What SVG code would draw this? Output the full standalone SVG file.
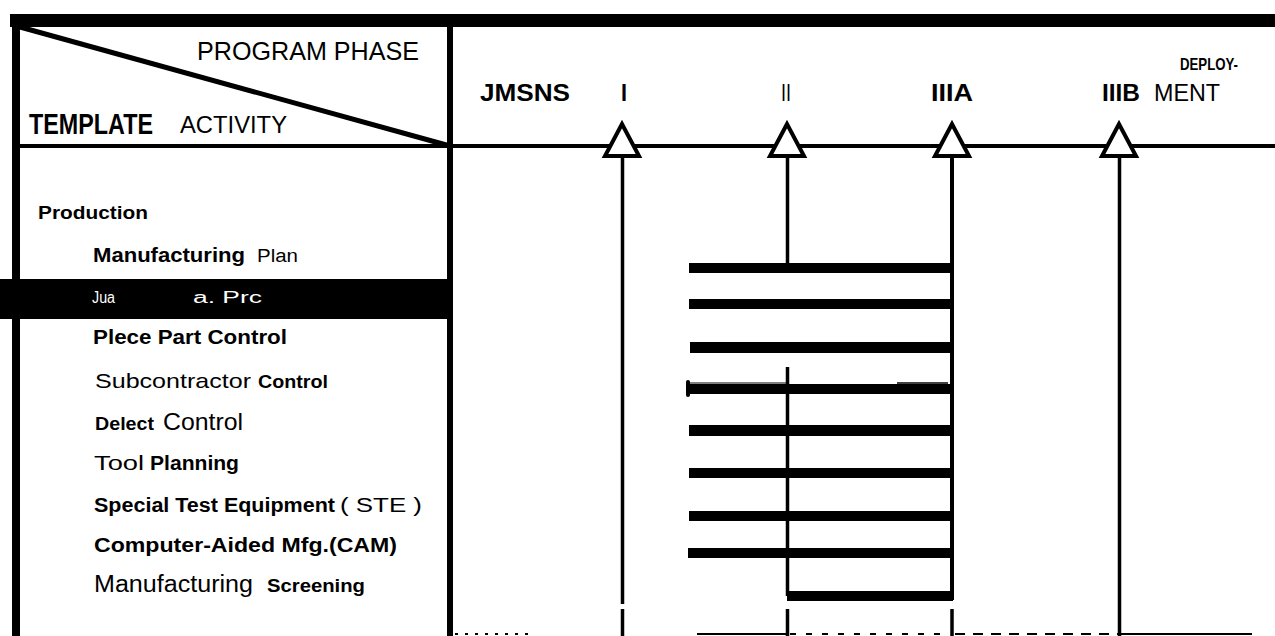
<svg xmlns="http://www.w3.org/2000/svg" width="1275" height="636" viewBox="0 0 1275 636">
<style>
.r{font-family:"Liberation Sans",Arial,sans-serif;fill:#000}
.b{font-family:"Liberation Sans",Arial,sans-serif;font-weight:bold;fill:#000}
.w{fill:#fff}
.bar{fill:#000}
.ln{stroke:#000;fill:none}
.tri{fill:#fff;stroke:#000;stroke-width:4;stroke-linejoin:miter}
</style>
<rect width="1275" height="636" fill="#fff"/>
<g id="frame">
<rect x="10" y="14" width="1265" height="13" fill="#000"/>
<rect x="12" y="14" width="8" height="622" fill="#000"/>
<rect x="447" y="14" width="6" height="622" fill="#000"/>
<line class="ln" x1="12" y1="146" x2="1275" y2="146" stroke-width="4"/>
<line class="ln" x1="20" y1="27" x2="450" y2="146" stroke-width="5"/>
</g>
<g id="header-left">
<text class="r" x="197" y="60" font-size="25" textLength="222" lengthAdjust="spacingAndGlyphs">PROGRAM PHASE</text>
<text class="b" x="29" y="134" font-size="30" textLength="124" lengthAdjust="spacingAndGlyphs">TEMPLATE</text>
<text class="r" x="180" y="133" font-size="23" textLength="107" lengthAdjust="spacingAndGlyphs">ACTIVITY</text>
</g>
<g id="header-phases">
<text class="b" x="480" y="101" font-size="24" textLength="90" lengthAdjust="spacingAndGlyphs">JMSNS</text>
<text class="b" x="621" y="101" font-size="24" textLength="6" lengthAdjust="spacingAndGlyphs">I</text>
<text class="r" x="781" y="101" font-size="24" textLength="10" lengthAdjust="spacingAndGlyphs">II</text>
<text class="b" x="931" y="101" font-size="24" textLength="42" lengthAdjust="spacingAndGlyphs">IIIA</text>
<text class="b" x="1102" y="101" font-size="24" textLength="38" lengthAdjust="spacingAndGlyphs">IIIB</text>
<text class="r" x="1154" y="101" font-size="24" textLength="66" lengthAdjust="spacingAndGlyphs">MENT</text>
<text class="b" x="1180" y="70" font-size="17" textLength="58" lengthAdjust="spacingAndGlyphs">DEPLOY-</text>
</g>
<g id="milestones">
<polygon class="tri" points="622,124 605,156 639,156"/>
<polygon class="tri" points="787,124 770,156 804,156"/>
<polygon class="tri" points="952,124 935,156 969,156"/>
<polygon class="tri" points="1119,124 1102,156 1136,156"/>
</g>
<g id="rows">
<text class="b" x="38" y="219" font-size="19" textLength="110" lengthAdjust="spacingAndGlyphs">Production</text>
<g id="row-mfg-plan">
<text class="b" x="93" y="262" font-size="20" textLength="152" lengthAdjust="spacingAndGlyphs">Manufacturing</text>
<text class="r" x="257" y="262" font-size="18" textLength="41" lengthAdjust="spacingAndGlyphs">Plan</text>
</g>
<g id="row-quality">
<rect x="0" y="279" width="447" height="40" fill="#000"/>
<text class="r w" x="92" y="303" font-size="16" textLength="23" lengthAdjust="spacingAndGlyphs">Jua</text>
<text class="r w" x="193" y="303" font-size="16" textLength="69" lengthAdjust="spacingAndGlyphs">a. Prc</text>
</g>
<g id="row-piece-part">
<text class="b" x="93" y="344" font-size="20" textLength="194" lengthAdjust="spacingAndGlyphs">Plece Part Control</text>
</g>
<g id="row-subcontractor">
<text class="r" x="95" y="388" font-size="21" textLength="156" lengthAdjust="spacingAndGlyphs">Subcontractor</text>
<text class="b" x="258" y="388" font-size="19" textLength="70" lengthAdjust="spacingAndGlyphs">Control</text>
</g>
<g id="row-defect">
<text class="b" x="95" y="430" font-size="19" textLength="59" lengthAdjust="spacingAndGlyphs">Delect</text>
<text class="r" x="163" y="430" font-size="24" textLength="80" lengthAdjust="spacingAndGlyphs">Control</text>
</g>
<g id="row-tool">
<text class="r" x="94" y="470" font-size="21" textLength="50" lengthAdjust="spacingAndGlyphs">Tool</text>
<text class="b" x="150" y="470" font-size="20" textLength="89" lengthAdjust="spacingAndGlyphs">Planning</text>
</g>
<g id="row-ste">
<text class="b" x="94" y="512" font-size="20" textLength="241" lengthAdjust="spacingAndGlyphs">Special Test Equipment</text>
<text class="r" x="340" y="512" font-size="21" textLength="82" lengthAdjust="spacingAndGlyphs">( STE )</text>
</g>
<g id="row-cam">
<text class="b" x="94" y="552" font-size="20" textLength="303" lengthAdjust="spacingAndGlyphs">Computer-Aided  Mfg.(CAM)</text>
</g>
<g id="row-screening">
<text class="r" x="94" y="592" font-size="23" textLength="159" lengthAdjust="spacingAndGlyphs">Manufacturing</text>
<text class="b" x="267" y="592" font-size="19" textLength="98" lengthAdjust="spacingAndGlyphs">Screening</text>
</g>
</g>
<g id="connectors">
<line class="ln" x1="622.5" y1="158" x2="622.5" y2="604" stroke-width="3.5"/>
<line class="ln" x1="622.5" y1="609" x2="622.5" y2="636" stroke-width="3.5"/>
<line class="ln" x1="787.5" y1="158" x2="787.5" y2="268" stroke-width="3.5"/>
<line class="ln" x1="787.5" y1="367" x2="787.5" y2="596" stroke-width="3.5"/>
<line class="ln" x1="787.5" y1="609" x2="787.5" y2="636" stroke-width="3.5"/>
<line class="ln" x1="952" y1="158" x2="952" y2="600" stroke-width="4"/>
<line class="ln" x1="952" y1="609" x2="952" y2="636" stroke-width="3.5"/>
<line class="ln" x1="1119.5" y1="158" x2="1119.5" y2="636" stroke-width="3.5"/>
<rect class="bar" x="689" y="263" width="263" height="10"/>
<rect class="bar" x="689" y="299" width="263" height="10"/>
<rect class="bar" x="690" y="342" width="262" height="11"/>
<rect class="bar" x="689" y="384" width="264" height="10"/>
<rect x="686" y="380" width="4" height="17" rx="2" fill="#000"/>
<line class="ln" x1="689" y1="383" x2="786" y2="383" stroke-width="1.2"/>
<line class="ln" x1="897" y1="383" x2="948" y2="383" stroke-width="1.5"/>
<rect class="bar" x="689" y="425" width="263" height="11"/>
<rect class="bar" x="689" y="468" width="263" height="10"/>
<rect class="bar" x="689" y="511" width="263" height="10"/>
<rect class="bar" x="688" y="548" width="264" height="10"/>
<rect class="bar" x="787" y="591" width="166" height="10"/>
<line class="ln" x1="697" y1="634" x2="786" y2="634" stroke-width="2"/>
<line class="ln" x1="790" y1="634" x2="950" y2="634" stroke-width="2" stroke-dasharray="6 10"/>
<line class="ln" x1="955" y1="634" x2="1118" y2="634" stroke-width="2" stroke-dasharray="10 8"/>
<line class="ln" x1="1121" y1="634" x2="1252" y2="634" stroke-width="2"/>
<line class="ln" x1="455" y1="634" x2="530" y2="634" stroke-width="2" stroke-dasharray="3 7"/>
</g>
</svg>
